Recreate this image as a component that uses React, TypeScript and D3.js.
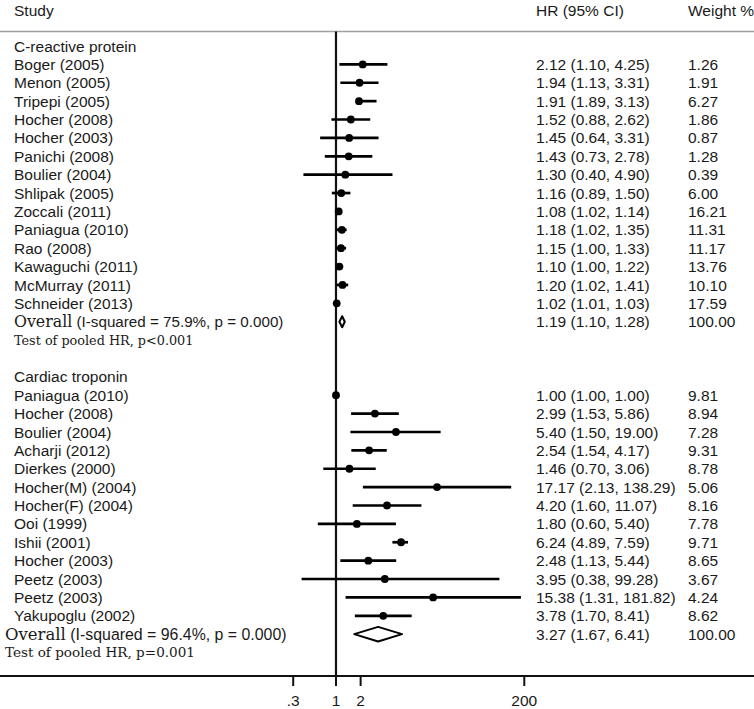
import React from "react";
import * as d3 from "d3";

const W = 754;
const H = 709;

// C-reactive protein group
const crpStudies = [
  "Boger (2005)", "Menon (2005)", "Tripepi (2005)", "Hocher (2008)", "Hocher (2003)",
  "Panichi (2008)", "Boulier (2004)", "Shlipak (2005)", "Zoccali (2011)", "Paniagua (2010)",
  "Rao (2008)", "Kawaguchi (2011)", "McMurray (2011)", "Schneider (2013)",
];
const crpHR = [2.12, 1.94, 1.91, 1.52, 1.45, 1.43, 1.30, 1.16, 1.08, 1.18, 1.15, 1.10, 1.20, 1.02];
const crpLo = [1.10, 1.13, 1.89, 0.88, 0.64, 0.73, 0.40, 0.89, 1.02, 1.02, 1.00, 1.00, 1.02, 1.01];
const crpHi = [4.25, 3.31, 3.13, 2.62, 3.31, 2.78, 4.90, 1.50, 1.14, 1.35, 1.33, 1.22, 1.41, 1.03];
const crpWeight = [1.26, 1.91, 6.27, 1.86, 0.87, 1.28, 0.39, 6.00, 16.21, 11.31, 11.17, 13.76, 10.10, 17.59];
const crpOverall = [1.19, 1.10, 1.28];
const crpI2 = "75.9%";
const crpTest = "Test of pooled HR, p<0.001";

// Cardiac troponin group
const tropStudies = [
  "Paniagua (2010)", "Hocher (2008)", "Boulier (2004)", "Acharji (2012)", "Dierkes (2000)",
  "Hocher(M) (2004)", "Hocher(F) (2004)", "Ooi (1999)", "Ishii (2001)", "Hocher (2003)",
  "Peetz (2003)", "Peetz (2003)", "Yakupoglu (2002)",
];
const tropHR = [1.00, 2.99, 5.40, 2.54, 1.46, 17.17, 4.20, 1.80, 6.24, 2.48, 3.95, 15.38, 3.78];
const tropLo = [1.00, 1.53, 1.50, 1.54, 0.70, 2.13, 1.60, 0.60, 4.89, 1.13, 0.38, 1.31, 1.70];
const tropHi = [1.00, 5.86, 19.00, 4.17, 3.06, 138.29, 11.07, 5.40, 7.59, 5.44, 99.28, 181.82, 8.41];
const tropWeight = [9.81, 8.94, 7.28, 9.31, 8.78, 5.06, 8.16, 7.78, 9.71, 8.65, 3.67, 4.24, 8.62];
const tropOverall = [3.27, 1.67, 6.41];
const tropI2 = "96.4%";
const tropTest = "Test of pooled HR, p=0.001";

const tickValues = [0.3, 1, 2, 200];
const tickLabels = [".3", "1", "2", "200"];

const SANS = "'Liberation Sans', Arial, sans-serif";
const SERIF = "'DejaVu Serif', serif";
const TXT = "#1a1a1a";

type Row =
  | { kind: "title"; label: string }
  | { kind: "study"; label: string; hr: number; lo: number; hi: number; w: number }
  | { kind: "overall"; i2: string; hr: number; lo: number; hi: number; alt: boolean }
  | { kind: "test"; label: string; alt: boolean }
  | { kind: "blank" };

function buildRows(): Row[] {
  const rows: Row[] = [];
  rows.push({ kind: "title", label: "C-reactive protein" });
  crpStudies.forEach((s, i) =>
    rows.push({ kind: "study", label: s, hr: crpHR[i], lo: crpLo[i], hi: crpHi[i], w: crpWeight[i] })
  );
  rows.push({ kind: "overall", i2: crpI2, hr: crpOverall[0], lo: crpOverall[1], hi: crpOverall[2], alt: false });
  rows.push({ kind: "test", label: crpTest, alt: false });
  rows.push({ kind: "blank" });
  rows.push({ kind: "title", label: "Cardiac troponin" });
  tropStudies.forEach((s, i) =>
    rows.push({ kind: "study", label: s, hr: tropHR[i], lo: tropLo[i], hi: tropHi[i], w: tropWeight[i] })
  );
  rows.push({ kind: "overall", i2: tropI2, hr: tropOverall[0], lo: tropOverall[1], hi: tropOverall[2], alt: true });
  rows.push({ kind: "test", label: tropTest, alt: true });
  return rows;
}

const f2 = (v: number) => v.toFixed(2);

export default function App() {
  const rows = buildRows();
  const x = d3.scaleLog().domain([0.3, 200]).range([293.2, 524.3]);
  const y = d3.scaleLinear().domain([0, 1]).range([46, 64.38]);

  const headerY = 10;
  const headerLineY = 31.5;
  const axisY = 676;
  const colStudy = 14;
  const colHR = 536;
  const colW = 688;
  const fs = 15.5;
  const dy = "0.36em";

  return (
    <div style={{ position: "absolute", left: 0, top: 0 }}>
      <svg width={W} height={H} viewBox={`0 0 ${W} ${H}`} style={{ display: "block", background: "#fff" }}>
        <rect x={0} y={0} width={W} height={H} fill="#fff" />
        {/* header */}
        <g fontFamily={SANS} fontSize={fs} fill={TXT}>
          <text x={colStudy} y={headerY} dy={dy}>Study</text>
          <text x={colHR} y={headerY} dy={dy}>HR (95% CI)</text>
          <text x={colW} y={headerY} dy={dy}>Weight %</text>
        </g>
        <line x1={0} x2={W} y1={headerLineY} y2={headerLineY} stroke="#a0a0a0" strokeWidth={1.5} />

        {/* null line */}
        <line x1={x(1)} x2={x(1)} y1={headerLineY} y2={axisY} stroke="#111" strokeWidth={2.2} />

        {rows.map((r, i) => {
          const yy = y(i);
          if (r.kind === "title") {
            return (
              <text key={i} x={colStudy} y={yy} dy={dy} fontFamily={SANS} fontSize={fs} fill={TXT}>
                {r.label}
              </text>
            );
          }
          if (r.kind === "study") {
            return (
              <g key={i}>
                <text x={colStudy} y={yy} dy={dy} fontFamily={SANS} fontSize={fs} fill={TXT}>{r.label}</text>
                {r.hi > r.lo && (
                  <line x1={x(r.lo)} x2={x(r.hi)} y1={yy} y2={yy} stroke="#000" strokeWidth={2.7} />
                )}
                <circle cx={x(r.hr)} cy={yy} r={3.9} fill="#000" />
                <text x={colHR} y={yy} dy={dy} fontFamily={SANS} fontSize={fs} fill={TXT}>
                  {`${f2(r.hr)} (${f2(r.lo)}, ${f2(r.hi)})`}
                </text>
                <text x={colW} y={yy} dy={dy} fontFamily={SANS} fontSize={fs} fill={TXT}>{f2(r.w)}</text>
              </g>
            );
          }
          if (r.kind === "overall") {
            const sc = r.alt ? 1.045 : 1;
            const x0 = r.alt ? 5 : colStudy;
            const h = r.alt ? 7.3 : 5.5;
            const pts = [
              [x(r.lo), yy],
              [x(r.hr), yy - h],
              [x(r.hi), yy],
              [x(r.hr), yy + h],
            ]
              .map((p) => p.join(","))
              .join(" ");
            return (
              <g key={i}>
                <text x={x0} y={yy} dy={dy} fill={TXT}>
                  <tspan fontFamily={SERIF} fontSize={15.8 * sc}>Overall</tspan>
                  <tspan fontFamily={SANS} fontSize={15.2 * sc}>{` (I-squared = ${r.i2}, p = 0.000)`}</tspan>
                </text>
                <polygon points={pts} fill="#fff" stroke="#000" strokeWidth={2} strokeLinejoin="round" />
                <text x={colHR} y={yy} dy={dy} fontFamily={SANS} fontSize={fs} fill={TXT}>
                  {`${f2(r.hr)} (${f2(r.lo)}, ${f2(r.hi)})`}
                </text>
                <text x={colW} y={yy} dy={dy} fontFamily={SANS} fontSize={fs} fill={TXT}>100.00</text>
              </g>
            );
          }
          if (r.kind === "test") {
            const sc = r.alt ? 1.06 : 1;
            const x0 = r.alt ? 5 : colStudy;
            return (
              <text key={i} x={x0} y={yy} dy={dy} fontFamily={SERIF} fontSize={12.8 * sc} fill={TXT}>
                {r.label}
              </text>
            );
          }
          return null;
        })}

        {/* axis */}
        <line x1={0} x2={W} y1={axisY} y2={axisY} stroke="#111" strokeWidth={2} />
        {tickValues.map((t, i) => (
          <g key={t}>
            <line x1={x(t)} x2={x(t)} y1={axisY} y2={axisY + 10} stroke="#111" strokeWidth={2} />
            <text x={x(t)} y={700} dy={dy} textAnchor="middle" fontFamily={SANS} fontSize={fs} fill={TXT}>
              {tickLabels[i]}
            </text>
          </g>
        ))}
      </svg>
    </div>
  );
}
